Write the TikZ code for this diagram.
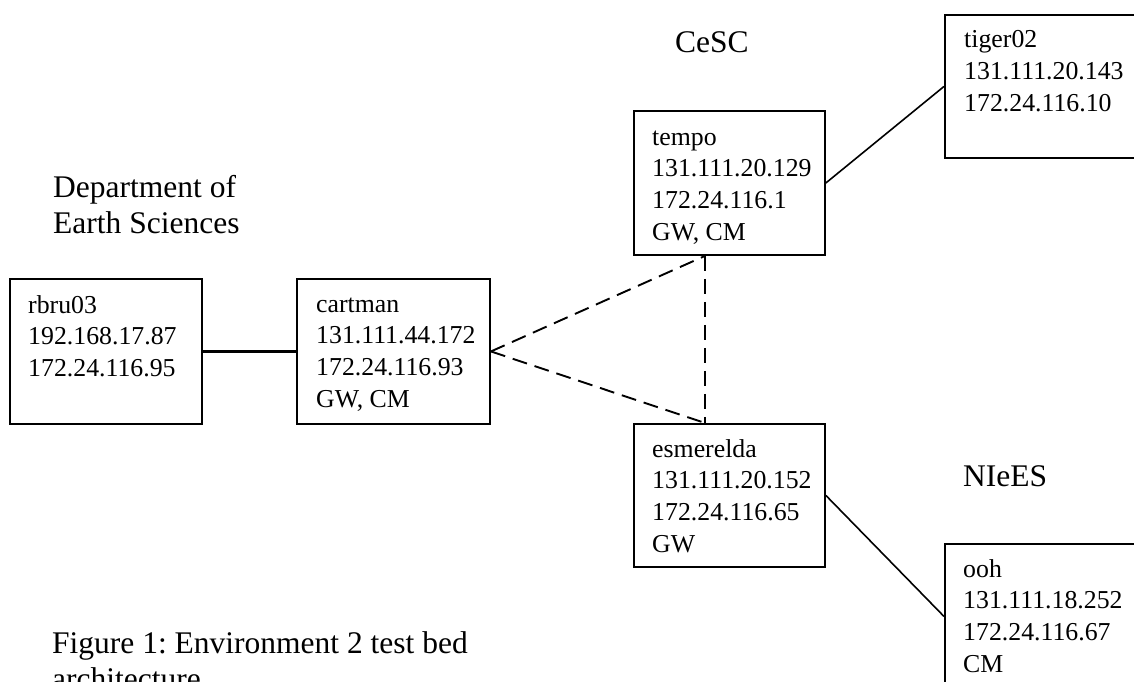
\documentclass[tikz,border=0pt]{standalone}
\usepackage{fontspec}
\setmainfont{Liberation Serif}
\frenchspacing
\newcommand{\mylines}[1]{\begin{tabular}[t]{@{}l@{}}#1\end{tabular}}
\tikzset{
  hostbox/.style={draw, line width=1.9pt, rectangle, anchor=north west, inner sep=0pt, minimum width=192pt, minimum height=145pt},
  btext/.style={anchor=base west, inner sep=0pt, font=\fontsize{25.8}{31.7}\selectfont},
  lbl/.style={anchor=base west, inner sep=0pt, font=\fontsize{31.5}{36.7}\selectfont},
  solidlink/.style={line width=2.6pt},
  thinlink/.style={line width=1.6pt},
  dlink/.style={line width=1.9pt, dash pattern=on 15pt off 8pt},
}
\begin{document}
\begin{tikzpicture}[x=1pt,y=-1pt]
\useasboundingbox (0,0) rectangle (1134,682);
\clip (0,0) rectangle (1134,682);
% boxes
\node[hostbox] (rbru) at (9,278) {};
\node[hostbox, minimum width=193pt] (cartman) at (296,278) {};
\node[hostbox, minimum width=191pt, minimum height=144pt] (tempo) at (633,110) {};
\node[hostbox, minimum width=191pt, minimum height=143pt] (esm) at (633,423) {};
\node[hostbox, minimum width=191pt, minimum height=143pt] (tiger) at (944,14) {};
\node[hostbox, minimum width=191pt, minimum height=145pt] (ooh) at (944,543) {};
% box texts
\node[btext] (rbru-t) at ([shift={(19,35)}]rbru.north west) {\mylines{rbru03\\192.168.17.87\\172.24.116.95}};
\node[btext] (cartman-t) at ([shift={(20,34)}]cartman.north west) {\mylines{cartman\\131.111.44.172\\172.24.116.93\\GW, CM}};
\node[btext] (tempo-t) at ([shift={(19,35)}]tempo.north west) {\mylines{tempo\\131.111.20.129\\172.24.116.1\\GW, CM}};
\node[btext] (esm-t) at ([shift={(19,34)}]esm.north west) {\mylines{esmerelda\\131.111.20.152\\172.24.116.65\\GW}};
\node[btext] (tiger-t) at ([shift={(20,34)}]tiger.north west) {\mylines{tiger02\\131.111.20.143\\172.24.116.10}};
\node[btext] (ooh-t) at ([shift={(19,34)}]ooh.north west) {\mylines{ooh\\131.111.18.252\\172.24.116.67\\CM}};
% group labels
\node[lbl] (cesc) at (675,53) {CeSC};
\node[lbl] (niees) at (963,486) {NIeES};
\node[lbl] (dept) at (53,197) {\mylines{Department of\\Earth Sciences}};
\node[lbl] (caption) at (52,653) {\mylines{Figure 1: Environment 2 test bed\\architecture}};
% connectors
\coordinate (tb) at ([xshift=72pt]tempo.south west);
\coordinate (eb) at ([xshift=72pt]esm.north west);
\draw[solidlink] (rbru.east) -- (cartman.west);
\draw[thinlink] (tempo.east) -- (tiger.west);
\draw[thinlink] (esm.east) -- (ooh.west);
\draw[dlink] (cartman.east) -- (tb);
\draw[dlink] (cartman.east) -- (eb);
\draw[dlink] (tb) -- (eb);
\end{tikzpicture}
\end{document}
